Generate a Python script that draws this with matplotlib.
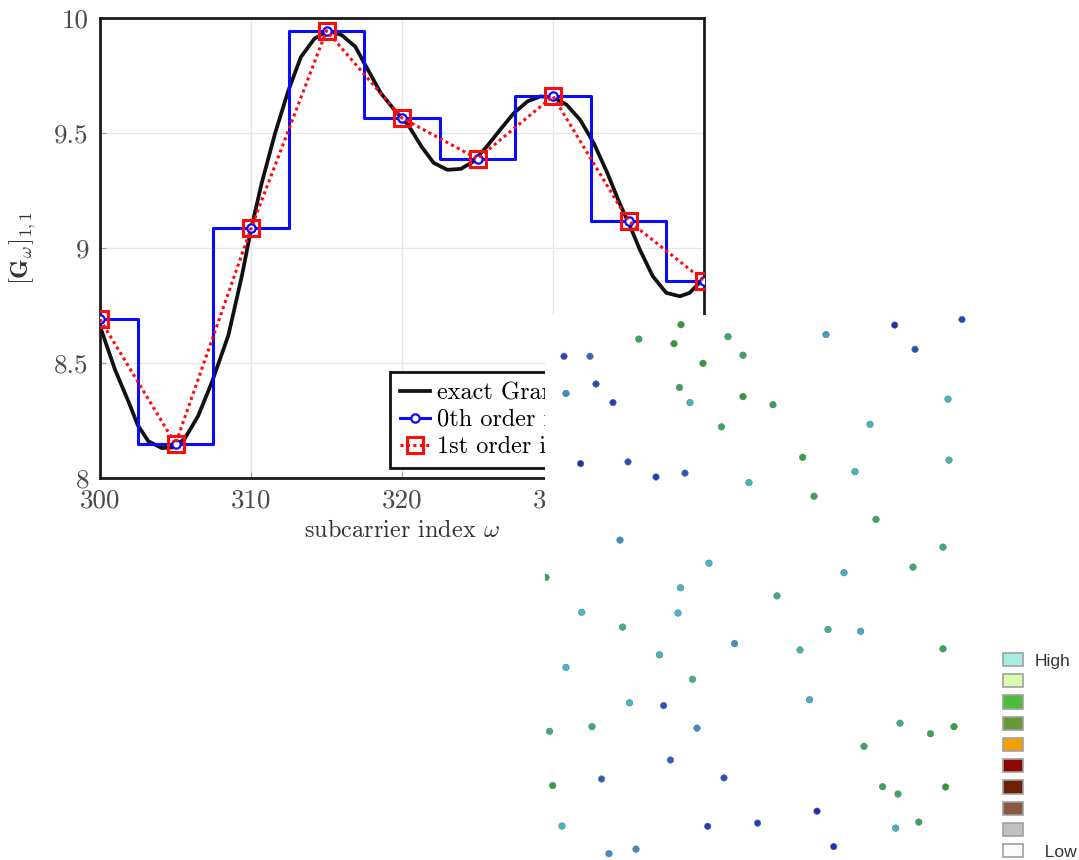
import matplotlib
matplotlib.use('Agg')
import matplotlib.pyplot as plt
from matplotlib.colors import LinearSegmentedColormap
from matplotlib.patches import Patch

plt.rcParams['font.family'] = ['cmr10', 'DejaVu Serif']
plt.rcParams['mathtext.fontset'] = 'cm'
plt.rcParams['axes.unicode_minus'] = False
plt.rcParams['axes.formatter.use_mathtext'] = True

# ---------------- data: main chart ----------------
sample_x = [300, 305, 310, 315, 320, 325, 330, 335, 340]
sample_y = [8.69, 8.148, 9.085, 9.945, 9.565, 9.388, 9.66, 9.118, 8.858]

exact_x = [300, 301, 301.9, 302.5, 303.2, 304.1, 304.85, 305.6, 306.5, 307.4,
           308.5, 309.4, 310.0, 310.7, 311.6, 312.45, 313.3, 314.2, 315.1, 316.0,
           316.9, 317.7, 318.6, 319.5, 320.4, 321.3, 322.1, 323.0, 323.9, 324.75,
           325.6, 326.5, 327.4, 328.3, 329.15, 330.0, 330.9, 331.8, 332.7, 333.6,
           334.4, 335.1, 335.75, 336.6, 337.5, 338.4, 339.05, 339.8, 340]
exact_y = [8.66, 8.47, 8.33, 8.23, 8.16, 8.13, 8.133, 8.17, 8.27, 8.415,
           8.62, 8.88, 9.08, 9.28, 9.50, 9.68, 9.83, 9.91, 9.945, 9.926,
           9.876, 9.78, 9.673, 9.60, 9.536, 9.44, 9.37, 9.34, 9.344, 9.377,
           9.44, 9.514, 9.586, 9.637, 9.659, 9.656, 9.623, 9.557, 9.456, 9.326,
           9.196, 9.095, 8.993, 8.878, 8.805, 8.79, 8.805, 8.856, 8.87]

xticks = [300, 310, 320, 330, 340]
xtick_labels = ['300', '310', '320', '330', '340']
yticks = [8, 8.5, 9, 9.5, 10]
ytick_labels = ['8', '8.5', '9', '9.5', '10']
series_labels = ['exact Gramian', '0th order interpolation', '1st order interpolation']

# ---------------- data: overlay scatter panel ----------------
scatter_x = [136, 93.8, 129, 183, 281, 349.7, 417, 19, 45, 158,
             198, 370, 51, 21, 68, 134.5, 145, 198, 228, 403,
             176.5, 325, 35.6, 83, 111, 140, 204, 257.7, 310, 404,
             269, 331, 75, 164, 299, 368, 398, 1, 135.5, 232,
             36.7, 133, 77.6, 283, 315.6, 189.6, 114.5, 255, 398, 21,
             147.5, 84.5, 118.6, 264.6, 4.6, 47, 152, 355, 385.5, 409,
             319, 125.5, 56.6, 179, 7.7, 337.6, 353, 400.6, 272, 17,
             162.7, 212.6, 350.7, 373.8, 64, 91, 288.7]
scatter_y = [9.7, 24.1, 28.7, 21.7, 19.6, 10.1, 4.5, 41.3, 41.3, 48.3,
             40.2, 34.3, 69, 78.5, 87.6, 72.5, 87.6, 81.6, 89.7, 84.1,
             111.8, 109.3, 148.6, 146.9, 162, 158.1, 167.6, 142.3, 156.7, 145.1,
             181.2, 204.4, 225.1, 248.2, 257.7, 252.1, 232.1, 262.3, 272.8, 280.9,
             297.3, 298, 312.1, 314.5, 316.3, 328.6, 339.8, 334.9, 333.8, 352.4,
             364.3, 387.8, 390.6, 384.7, 416.3, 411.7, 413.1, 408.2, 418.7, 411.7,
             431.3, 445, 464, 462.9, 470.6, 471.7, 479, 472, 496.2, 511,
             511.3, 508.1, 513.1, 507.1, 538.7, 534.1, 531.6]
scatter_level = [4, 3.4, 4, 3.3, 1.5, 0, 0.3, 0.3, 0.7, 4,
                 3.4, 0.4, 0.3, 1.2, 0.2, 3.4, 2.2, 4, 3.6, 2.1,
                 3.4, 2.3, 0, 0.4, 0.2, 0.5, 2.3, 3.8, 2.3, 2.2,
                 3.5, 3.4, 1.3, 2.0, 1.8, 3.2, 3.0, 3.5, 2.2, 3.0,
                 2.0, 2.0, 2.9, 2.9, 1.8, 1.3, 2.2, 2.3, 3.5, 2.0,
                 2.9, 2.0, 0.4, 1.8, 3.0, 3.0, 1.2, 3.0, 3.5, 3.8,
                 3.4, 0.6, 0.6, 0.4, 3.8, 3.5, 3.3, 4, 0, 2.1,
                 0.2, 0.2, 2.2, 3.5, 1.2, 1.2, 0]
level_colors = ['#1a30b8', '#3a80c8', '#3cbcd0', '#38b27a', '#2e9e34']
legend_colors = ['#a8ece4', '#d8fcb0', '#4cbc3c', '#689838', '#f4a000',
                 '#8c0800', '#6c2008', '#8c5840', '#c0c0c0', '#fafafa']
legend_labels = ['High', '', '', '', '', '', '', '', '', '  Low']

# ---------------- figure ----------------
W, H = 1079, 860
fig = plt.figure(figsize=(W / 100, H / 100), dpi=100)
ax = fig.add_axes([100 / W, 1 - 478 / H, 604 / W, 460 / H])

ax.plot(exact_x, exact_y, color='#111111', lw=2.7, zorder=3, label=series_labels[0],
        solid_joinstyle='round')
ax.plot(sample_x, sample_y, drawstyle='steps-mid', color='#0a0aff', lw=2.2,
        marker='o', ms=6, mfc='white', mec='#0a0aff', mew=1.6, zorder=4,
        label=series_labels[1])
ax.plot(sample_x, sample_y, color='#ff0a0a', lw=2.2, ls=(0, (1, 1.1)),
        marker='s', ms=11, mfc='none', mec='#ff0a0a', mew=2.2, zorder=5,
        label=series_labels[2])

ax.set_xlim(300, 340)
ax.set_ylim(8, 10)
ax.set_xticks(xticks)
ax.set_xticklabels(xtick_labels)
ax.set_yticks(yticks)
ax.set_yticklabels(ytick_labels)
ax.tick_params(direction='in', length=4, width=0.8, color='#999999',
               labelsize=19.5, labelcolor='#4a4a4a', pad=8)
ax.grid(True, color='#e6e6e6', lw=1.0)
ax.set_axisbelow(True)
for sp in ax.spines.values():
    sp.set_linewidth(2.0)
    sp.set_color('#1a1a1a')
ax.set_xlabel(r'subcarrier index $\omega$', fontsize=17.5, color='#333333', labelpad=5)
ax.set_ylabel(r'$[\mathbf{G}_\omega]_{1,1}$', fontsize=18, color='#333333', labelpad=12)

leg = ax.legend(loc='lower left', bbox_to_anchor=(0.48, 0.022), borderaxespad=0,
                fontsize=17.5, frameon=True, fancybox=False, framealpha=1,
                edgecolor='#111111', handlelength=1.25, handletextpad=0.3,
                borderpad=0.4, labelspacing=0.2)
leg.get_frame().set_linewidth(2.0)

# ---------------- overlay panel ----------------
ax2 = fig.add_axes([545 / W, 0, (W - 545) / W, 545 / H], zorder=10)
ax2.set_facecolor('white')
ax2.set_xlim(0, W - 545)
ax2.set_ylim(545, 0)
ax2.set_xticks([])
ax2.set_yticks([])
for sp in ax2.spines.values():
    sp.set_visible(False)

cmap = LinearSegmentedColormap.from_list('bg', level_colors)
ax2.scatter(scatter_x, scatter_y, c=scatter_level, cmap=cmap, vmin=0, vmax=4,
            s=22, edgecolors='#707070', linewidths=0.4, zorder=3)

handles = [Patch(facecolor=c, edgecolor='#a0a0a0', linewidth=1.2) for c in legend_colors]
ax2.legend(handles, legend_labels, loc='upper left', bbox_to_anchor=(0.8577, 0.380),
           borderaxespad=0, borderpad=0, frameon=False,
           prop={'family': 'Liberation Sans', 'size': 12.5},
           labelcolor='#333333', handlelength=1.15, handleheight=0.8,
           handletextpad=0.69, labelspacing=0.32)

fig.savefig('out.png', dpi=100)
